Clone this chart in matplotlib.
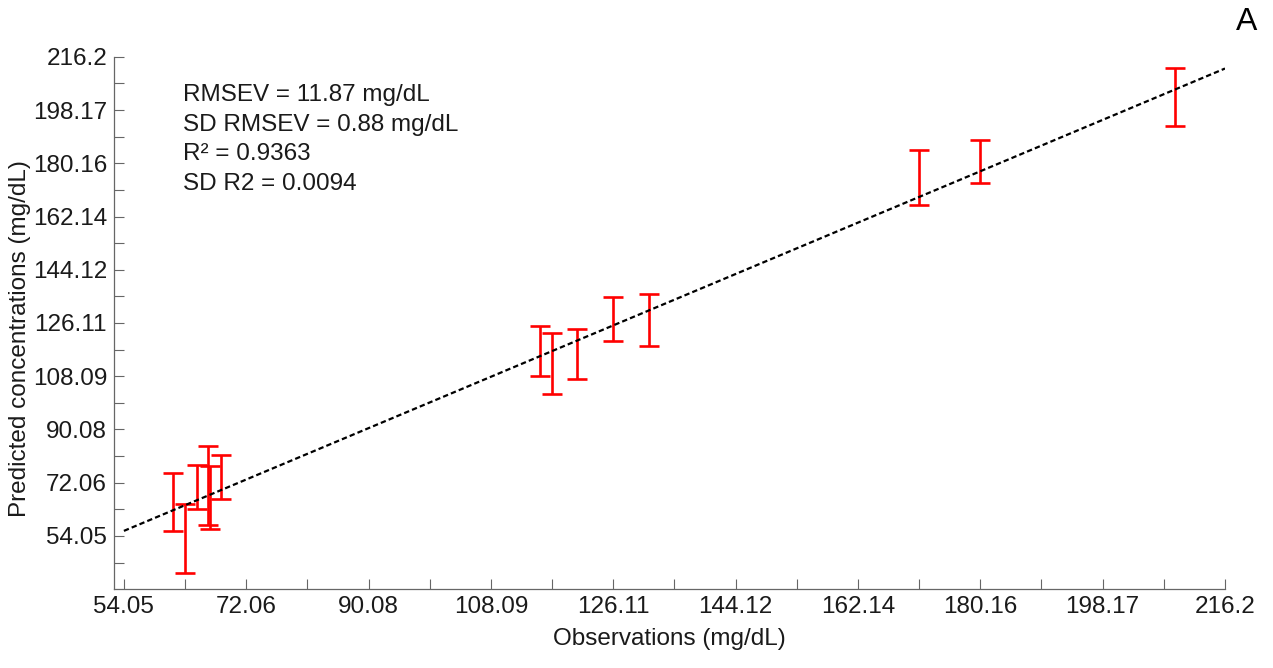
import matplotlib
matplotlib.use("Agg")
import matplotlib.pyplot as plt
from matplotlib.ticker import FixedLocator, FixedFormatter

plt.rcParams["font.family"] = ["Liberation Sans", "DejaVu Sans"]

# Validation set: observed vs mean predicted concentration, with SD of prediction

observed = [61.31, 63.04, 64.85, 66.45, 66.75, 68.34,
            115.34, 117.06, 120.74, 126.05, 131.39,
            171.07, 180.05, 208.88]
predicted = [65.65, 53.25, 70.70, 71.12, 67.12, 74.00,
             116.69, 112.31, 115.52, 127.35, 127.02,
             175.23, 180.88, 202.55]
pred_sd = [9.80, 11.60, 7.44, 13.45, 10.70, 7.43,
           8.45, 10.26, 8.50, 7.39, 8.74,
           9.30, 7.27, 9.80]

# Regression line of predicted on observed
fit_slope = 0.965
fit_intercept = 3.6
fit_range = [54.05, 216.2]

tick_values = [54.05, 72.06, 90.08, 108.09, 126.11, 144.12, 162.14, 180.16, 198.17, 216.2]
tick_labels = ["54.05", "72.06", "90.08", "108.09", "126.11", "144.12", "162.14", "180.16", "198.17", "216.2"]

stats_lines = ["RMSEV = 11.87 mg/dL", "SD RMSEV = 0.88 mg/dL", "R\u00b2 = 0.9363", "SD R2 = 0.0094"]

TEXT_COLOR = "#1a1a1a"
AXIS_COLOR = "#666666"
FS = 17.5

fig = plt.figure(figsize=(12.73, 6.68), dpi=100)
ax = fig.add_axes([0.0896, 0.118, 0.8727, 0.797])

ax.errorbar(observed, predicted, yerr=pred_sd, fmt="none", ecolor="#ff0000",
            elinewidth=1.9, capsize=7.2, capthick=1.9, zorder=3)

fit_y = [fit_slope * x + fit_intercept for x in fit_range]
ax.plot(fit_range, fit_y, color="black", lw=1.6, dashes=(2.4, 1.4), zorder=4)

ax.set_xlim(52.6, 216.2)
ax.set_ylim(36.03, 216.2)

step = tick_values[1] - tick_values[0]
minor_x = [v + step / 2 for v in tick_values[:-1]]
minor_y = [tick_values[0] - step / 2] + minor_x

ax.xaxis.set_major_locator(FixedLocator(tick_values))
ax.xaxis.set_major_formatter(FixedFormatter(tick_labels))
ax.yaxis.set_major_locator(FixedLocator(tick_values))
ax.yaxis.set_major_formatter(FixedFormatter(tick_labels))
ax.xaxis.set_minor_locator(FixedLocator(minor_x))
ax.yaxis.set_minor_locator(FixedLocator(minor_y))

ax.tick_params(which="both", direction="in", length=7.5, width=0.8,
               color=AXIS_COLOR, labelsize=FS, labelcolor=TEXT_COLOR, pad=5)

for side in ["top", "right"]:
    ax.spines[side].set_visible(False)
for side in ["left", "bottom"]:
    ax.spines[side].set_color(AXIS_COLOR)
    ax.spines[side].set_linewidth(0.9)

ax.set_xlabel("Observations (mg/dL)", fontsize=FS, color=TEXT_COLOR, labelpad=7)
ax.set_ylabel("Predicted concentrations (mg/dL)", fontsize=FS, color=TEXT_COLOR, labelpad=4)
ax.yaxis.set_label_coords(-0.075, 0.47)

for i, line in enumerate(stats_lines):
    fig.text(183 / 1273, 1 - (95 + i * 29.5) / 668, line, fontsize=FS,
             color=TEXT_COLOR, ha="left", va="center")

fig.text(1247 / 1273, 1 - 22 / 668, "A", fontsize=23, color="black", ha="center", va="center")

fig.savefig("out.png", dpi=100)
